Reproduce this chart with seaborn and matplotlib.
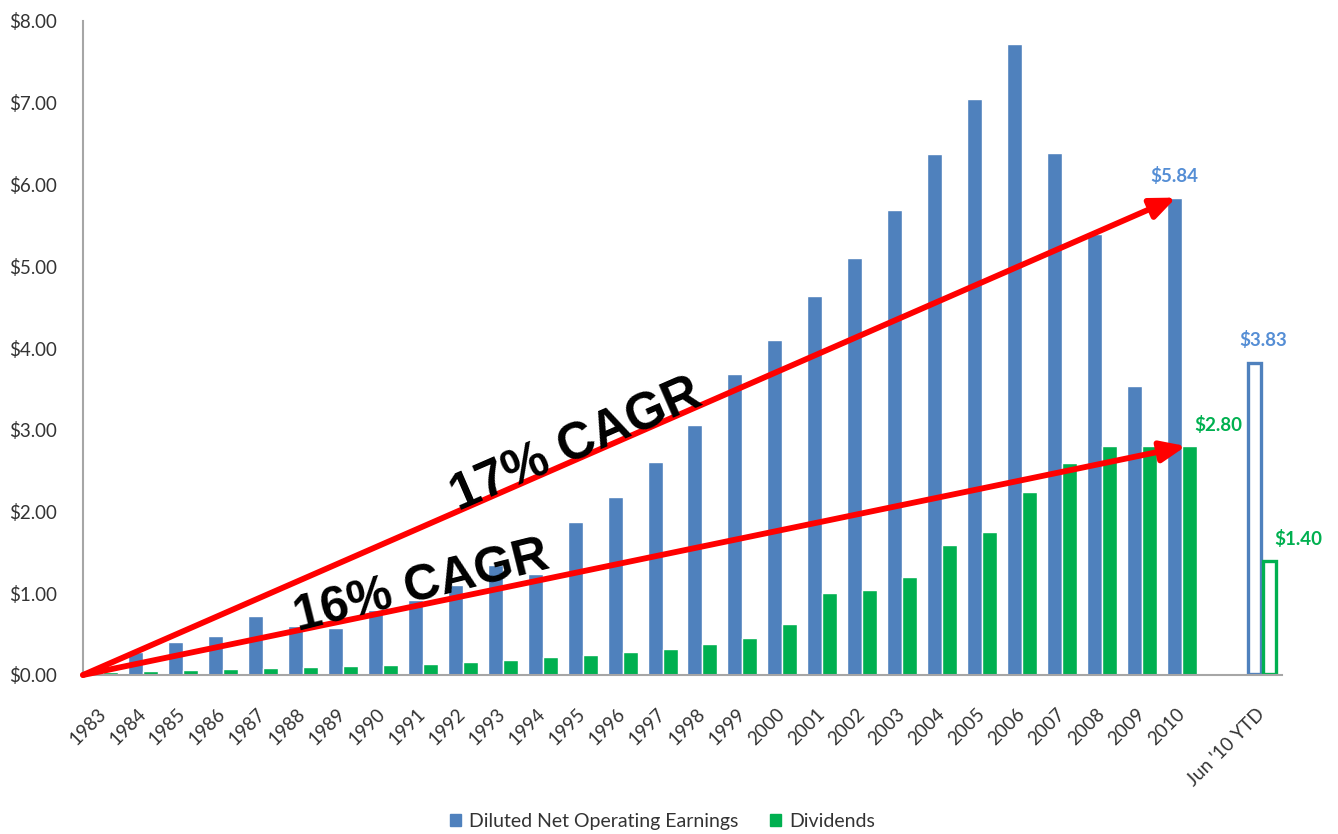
import matplotlib
matplotlib.use("Agg")
import matplotlib.pyplot as plt
from matplotlib.patches import Patch, ArrowStyle
import seaborn as sns
import pandas as pd

# ---------------- data ----------------
years = [str(y) for y in range(1983, 2011)]
periods = years + [" ", "Jun '10 YTD"]
earnings = [0.08, 0.28, 0.40, 0.48, 0.72, 0.60, 0.57, 0.79, 0.92, 1.10,
            1.35, 1.24, 1.87, 2.18, 2.61, 3.06, 3.68, 4.10, 4.63, 5.10,
            5.69, 6.37, 7.04, 7.72, 6.39, 5.39, 3.53, 5.84]
dividends = [0.04, 0.05, 0.06, 0.07, 0.08, 0.10, 0.11, 0.12, 0.14, 0.16,
             0.18, 0.22, 0.25, 0.28, 0.32, 0.38, 0.45, 0.62, 1.00, 1.04,
             1.20, 1.59, 1.75, 2.24, 2.59, 2.80, 2.80, 2.80]
ytd_label = "Jun '10 YTD"
ytd_earnings = 3.83
ytd_dividends = 1.40
series_names = ["Diluted Net Operating Earnings", "Dividends"]
cagr_texts = ["17% CAGR", "16% CAGR"]
value_labels = ["$5.84", "$3.83", "$2.80", "$1.40"]
yticks = [0, 1, 2, 3, 4, 5, 6, 7, 8]

BLUE = "#4F81BD"
GREEN = "#00B050"
LBLUE = "#558ED5"
RED = "#FF0000"

rows = []
for p, e, d in zip(years, earnings, dividends):
    rows.append((p, series_names[0], e))
    rows.append((p, series_names[1], d))
rows.append((ytd_label, series_names[0], ytd_earnings))
rows.append((ytd_label, series_names[1], ytd_dividends))
df = pd.DataFrame(rows, columns=["period", "series", "value"])

# ---------------- figure ----------------
sns.set_style("white")
plt.rcParams["font.family"] = ["Lato", "DejaVu Sans"]

fig = plt.figure(figsize=(13.38, 8.34), dpi=100)
ax = fig.add_axes([83 / 1338, 1 - 675 / 834, 1199 / 1338, (675 - 21) / 834])

sns.barplot(data=df, x="period", y="value", hue="series", order=periods,
            hue_order=series_names, palette=[BLUE, GREEN], width=0.75,
            saturation=1, legend=False, ax=ax, zorder=2)

# hollow bars for the YTD column
ytd_idx = periods.index(ytd_label)
for patch in ax.patches:
    cx = patch.get_x() + patch.get_width() / 2
    if abs(cx - ytd_idx) < 0.5:
        col = patch.get_facecolor()
        patch.set_facecolor("white")
        patch.set_edgecolor(col)
        patch.set_linewidth(2.4)
        patch.set_x(patch.get_x() + 0.03)
        patch.set_width(patch.get_width() - 0.06)
        patch.set_height(patch.get_height() - 0.02)
        patch.set_y(0.01)

ax.set_xlim(-0.5, len(periods) - 0.5)
ax.set_ylim(0, 8)
ax.set_yticks(yticks)
ax.set_yticklabels([f"${v:.2f}" for v in yticks])
ax.set_xlabel("")
ax.set_ylabel("")
ax.tick_params(axis="y", length=0, pad=18.5, labelsize=13.5, labelcolor="#333333")
ax.tick_params(axis="x", length=0, pad=26, labelsize=13.5, labelcolor="#333333")
for lbl in ax.get_xticklabels():
    lbl.set_rotation(45)
    lbl.set_ha("right")
    lbl.set_va("center")
    lbl.set_rotation_mode("anchor")

for s in ["top", "right"]:
    ax.spines[s].set_visible(False)
for s in ["left", "bottom"]:
    ax.spines[s].set_color("#A6A6A6")
    ax.spines[s].set_linewidth(1.5)
ax.grid(False)

# CAGR arrows
last = len(years) - 1
style = ArrowStyle("-|>", head_length=1.0, head_width=0.42)
ax.annotate("", xy=(last - 0.15, earnings[-1]), xytext=(-0.5, 0),
            arrowprops=dict(arrowstyle=style, color=RED, lw=4.2,
                            mutation_scale=15, shrinkA=0, shrinkB=0),
            zorder=5, annotation_clip=False)
ax.annotate("", xy=(last + 0.1, dividends[-1]), xytext=(-0.5, 0),
            arrowprops=dict(arrowstyle=style, color=RED, lw=4.2,
                            mutation_scale=15, shrinkA=0, shrinkB=0),
            zorder=5, annotation_clip=False)

ax.text(11.85, 2.81, cagr_texts[0], rotation=23.5, ha="center", va="center",
        fontsize=37, fontweight="bold", family="Liberation Sans",
        color="black", zorder=6, rotation_mode="anchor")
ax.text(7.98, 1.08, cagr_texts[1], rotation=14, ha="center", va="center",
        fontsize=36, fontweight="bold", family="Liberation Sans",
        color="black", zorder=6, rotation_mode="anchor")

# value labels
lab_kw = dict(textcoords="offset points", ha="center", va="bottom",
              fontsize=13.5, fontweight="bold", annotation_clip=False)
ax.annotate(value_labels[0], xy=(last - 0.2, earnings[-1]), xytext=(0, 9),
            color=LBLUE, **lab_kw)
ax.annotate(value_labels[1], xy=(ytd_idx + 0.02, ytd_earnings), xytext=(0, 9),
            color=LBLUE, **lab_kw)
ax.annotate(value_labels[2], xy=(last + 0.9, dividends[-1]), xytext=(0, 9),
            color=GREEN, **lab_kw)
ax.annotate(value_labels[3], xy=(ytd_idx + 0.9, ytd_dividends), xytext=(0, 9),
            color=GREEN, **lab_kw)

# legend
handles = [Patch(facecolor=BLUE, edgecolor=BLUE, label=series_names[0]),
           Patch(facecolor=GREEN, edgecolor=GREEN, label=series_names[1])]
fig.legend(handles=handles, loc="lower center", bbox_to_anchor=(0.495, -0.016),
           ncol=2, frameon=False, fontsize=14, handlelength=0.6,
           handleheight=0.6, handletextpad=0.4, columnspacing=1.6,
           labelcolor="#333333")

fig.savefig("out.png", dpi=100)
